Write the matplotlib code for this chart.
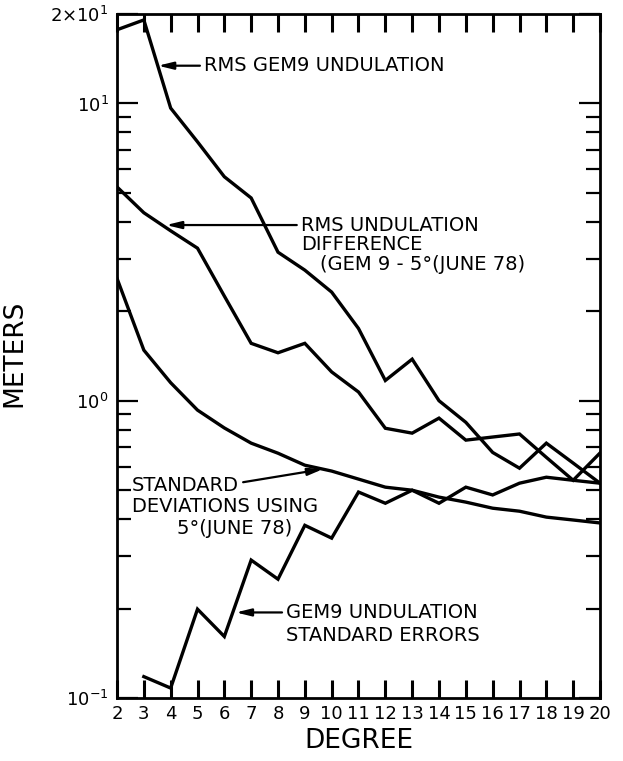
import numpy as np
import matplotlib
matplotlib.use("Agg")
import matplotlib.pyplot as plt
from matplotlib.ticker import FixedLocator, NullFormatter, LogLocator, NullLocator

plt.rcParams['font.family'] = ['DejaVu Sans']

degrees = list(range(2, 21))
rms_gem9 = [17.7, 19.1, 9.65, 7.43, 5.67, 4.81, 3.16, 2.75, 2.32, 1.75,
            1.17, 1.38, 1.00, 0.846, 0.67, 0.593, 0.72, 0.617, 0.528]
rms_diff = [5.24, 4.29, 3.73, 3.26, 2.25, 1.56, 1.45, 1.56, 1.25, 1.07,
            0.808, 0.778, 0.874, 0.737, 0.755, 0.773, 0.645, 0.54, 0.667]
std_dev = [2.58, 1.48, 1.15, 0.93, 0.81, 0.72, 0.666, 0.607, 0.58, 0.545,
           0.512, 0.50, 0.474, 0.456, 0.435, 0.425, 0.406, 0.397, 0.388]
err_degrees = list(range(3, 21))
std_err = [0.118, 0.108, 0.199, 0.161, 0.291, 0.251, 0.381, 0.345, 0.493,
           0.452, 0.50, 0.452, 0.512, 0.482, 0.528, 0.553, 0.54, 0.528]

ytick_vals = [0.1, 1, 10, 20]
ytick_labels = [r'$10^{-1}$', r'$10^{0}$', r'$10^{1}$', r'$2{\times}10^{1}$']

fig = plt.figure(figsize=(6.23, 7.61), dpi=100)
ax = fig.add_axes([117/623, 1-698/761, (600-117)/623, (698-14)/761])

lw = 2.4
for ys, xs in [(rms_gem9, degrees), (rms_diff, degrees), (std_dev, degrees), (std_err, err_degrees)]:
    ax.plot(xs, ys, color='black', lw=lw, solid_joinstyle='miter')

ax.set_yscale('log')
ax.set_xlim(2, 20)
ax.set_ylim(0.1, 20)

ax.xaxis.set_major_locator(FixedLocator(degrees))
ax.xaxis.set_minor_locator(NullLocator())
ax.set_xticklabels([str(d) for d in degrees], fontsize=13)
ax.yaxis.set_major_locator(FixedLocator(ytick_vals))
ax.set_yticklabels(ytick_labels, fontsize=13)
ax.yaxis.set_minor_locator(LogLocator(base=10, subs=np.arange(2, 10)))
ax.yaxis.set_minor_formatter(NullFormatter())

ax.tick_params(axis='x', which='major', direction='in', top=True, bottom=True,
               labeltop=False, length=13, width=2.2, pad=5, color='black')
ax.tick_params(axis='y', which='major', direction='in', left=True, right=True,
               labelright=False, length=15, width=1.6, pad=6)
ax.tick_params(axis='y', which='minor', direction='in', left=True, right=True,
               length=10, width=1.6)
for s in ax.spines.values():
    s.set_linewidth(2)

ax.set_xlabel('DEGREE', fontsize=19, labelpad=4)
ax.set_ylabel('METERS', fontsize=19)
ax.yaxis.set_label_coords((27-117)/483, (698-353)/684)

fs = 14
ap = dict(arrowstyle='-|>,head_length=0.9,head_width=0.22', lw=1.6, color='black',
          shrinkA=0, shrinkB=0)

# RMS GEM9 undulation
ax.annotate('', xy=(3.53, 13.4), xytext=(5.09, 13.4), arrowprops=ap)
ax.text(5.25, 13.4, 'RMS GEM9 UNDULATION', fontsize=fs, va='center', ha='left')

# RMS undulation difference
ax.annotate('', xy=(3.83, 3.9), xytext=(8.7, 3.9), arrowprops=ap)
ax.text(8.85, 3.9, 'RMS UNDULATION', fontsize=fs, va='center', ha='left')
ax.text(8.85, 3.35, 'DIFFERENCE', fontsize=fs, va='center', ha='left')
ax.text(9.55, 2.87, '(GEM 9 - 5°(JUNE 78)', fontsize=fs, va='center', ha='left')

# Standard deviations
ax.annotate('', xy=(9.68, 0.589), xytext=(6.70, 0.532), arrowprops=ap)
ax.text(2.55, 0.52, 'STANDARD', fontsize=fs, va='center', ha='left')
ax.text(2.55, 0.442, 'DEVIATIONS USING', fontsize=fs, va='center', ha='left')
ax.text(6.4, 0.373, '5°(JUNE 78)', fontsize=fs, va='center', ha='center')

# GEM9 standard errors
ax.annotate('', xy=(6.43, 0.194), xytext=(8.15, 0.194), arrowprops=ap)
ax.text(8.3, 0.194, 'GEM9 UNDULATION', fontsize=fs, va='center', ha='left')
ax.text(8.3, 0.1625, 'STANDARD ERRORS', fontsize=fs, va='center', ha='left')

fig.savefig('out.png', dpi=100)
